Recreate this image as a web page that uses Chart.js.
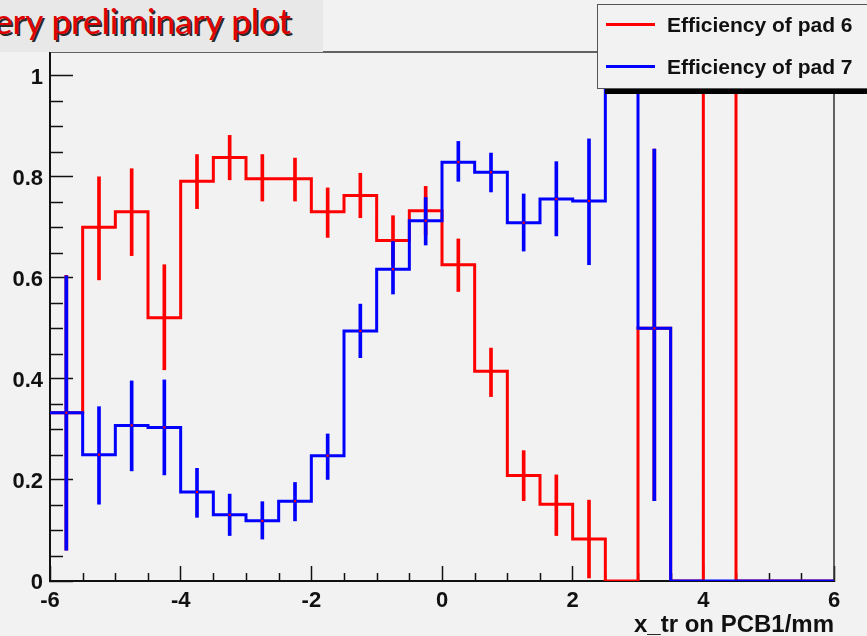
<!DOCTYPE html>
<html><head><meta charset="utf-8">
<script src="https://cdn.jsdelivr.net/npm/chart.js@4.4.1/dist/chart.umd.min.js"></script>
<style>
html,body{margin:0;padding:0;background:#f2f2f2;}
#wrap{position:relative;width:867px;height:636px;overflow:hidden;background:#f2f2f2;}
#c{position:absolute;left:0;top:0;}
#title{position:absolute;left:0;top:0;width:323px;height:52px;background:#e8e8e8;overflow:hidden;}
#title span{position:absolute;left:-27px;top:0px;font-family:Lato,"Open Sans",sans-serif;font-size:35px;line-height:40px;color:#e00000;text-shadow:2px 2px 0 #2a2a2a;white-space:nowrap;}
#legend{position:absolute;left:597px;top:4px;width:290px;height:83px;background:#f2f2f2;border:1px solid #555;box-shadow:8px 5px 0 #000;}
#legend .ln{position:absolute;left:8px;width:49px;height:3px;}
#legend .tx{position:absolute;left:69px;font-family:"Liberation Sans",Arial,sans-serif;font-weight:bold;font-size:21px;line-height:24px;color:#111;white-space:nowrap;}
</style></head>
<body>
<div id="wrap">
<canvas id="c" width="867" height="636"></canvas>
<div id="title"><span>Very preliminary plot</span></div>
<div id="legend">
  <div class="ln" style="top:18px;background:#ff0000"></div><div class="tx" style="top:8px">Efficiency of pad 6</div>
  <div class="ln" style="top:60px;background:#0000ff"></div><div class="tx" style="top:50px">Efficiency of pad 7</div>
</div>
</div>
<script>
// ---- data ----
const binEdges = [-6,-5.5,-5,-4.5,-4,-3.5,-3,-2.5,-2,-1.5,-1,-0.5,0,0.5,1,1.5,2,2.5,3,3.5,4,4.5,5,5.5,6];
const binCenters = [-5.75,-5.25,-4.75,-4.25,-3.75,-3.25,-2.75,-2.25,-1.75,-1.25,-0.75,-0.25,0.25,0.75,1.25,1.75,2.25,2.75,3.25,3.75,4.25,4.75,5.25,5.75];

const pad6Eff     = [0.333,0.700,0.731,0.521,0.791,0.838,0.796,0.796,0.731,0.763,0.674,0.733,0.626,0.415,0.209,0.152,0.083,0,0.5,0,1.0,0,0,0];
const pad6ErrLow  = [0.061,0.596,0.644,0.418,0.737,0.794,0.752,0.752,0.680,0.719,0.625,0.685,0.573,0.365,0.159,0.090,0.006,null,0.159,null,null,null,null,null];
const pad6ErrHigh = [0.605,0.800,0.816,0.626,0.844,0.882,0.844,0.837,0.778,0.807,0.723,0.781,0.677,0.461,0.258,0.210,0.160,null,0.855,null,null,null,null,null];

const pad7Eff     = [0.333,0.250,0.308,0.304,0.176,0.131,0.119,0.158,0.248,0.495,0.617,0.713,0.829,0.809,0.709,0.756,0.752,1.0,0.5,0,0,0,0,0];
const pad7ErrLow  = [0.061,0.152,0.218,0.210,0.126,0.090,0.083,0.119,0.201,0.442,0.568,0.665,0.791,0.770,0.653,0.683,0.626,null,0.159,null,null,null,null,null];
const pad7ErrHigh = [0.604,0.345,0.396,0.398,0.223,0.172,0.157,0.195,0.291,0.548,0.672,0.759,0.870,0.847,0.766,0.830,0.875,null,0.855,null,null,null,null,null];

const xTickValues = [-6,-4,-2,0,2,4,6];
const yTickValues = [0,0.2,0.4,0.6,0.8,1];
const yMinorTicks = [0.05,0.1,0.15,0.25,0.3,0.35,0.45,0.5,0.55,0.65,0.7,0.75,0.85,0.9,0.95];
const xMinorTicks = [-5.5,-5,-4.5,-3.5,-3,-2.5,-1.5,-1,-0.5,0.5,1,1.5,2.5,3,3.5,4.5,5,5.5];
const xTitle = 'x_tr on PCB1/mm';

const RED = '#ff0000', BLUE = '#0000ff';

function stepData(vals){
  return binEdges.map((e,i)=>({x:e, y: vals[Math.min(i, vals.length-1)]}));
}
function errData(lo, hi){
  return binCenters.map((c,i)=>({x:c, y: (lo[i]===null ? null : [lo[i], hi[i]])}));
}

const minorTicksPlugin = {
  id: 'minorTicks',
  beforeDatasetsDraw(chart){
    const {ctx, chartArea:a, scales:{x, y}} = chart;
    ctx.save();
    ctx.strokeStyle = '#111';
    ctx.lineWidth = 1.5;
    ctx.beginPath();
    yMinorTicks.forEach(v=>{ const py = Math.round(y.getPixelForValue(v))+0.5; ctx.moveTo(a.left, py); ctx.lineTo(a.left+13, py); });
    xMinorTicks.forEach(v=>{ const px = Math.round(x.getPixelForValue(v))+0.5; ctx.moveTo(px, a.bottom); ctx.lineTo(px, a.bottom-8); });
    ctx.stroke();
    // frame top/right
    ctx.strokeStyle = '#333';
    ctx.lineWidth = 1.5;
    ctx.beginPath();
    ctx.moveTo(a.left, a.top); ctx.lineTo(a.right, a.top); ctx.lineTo(a.right, a.bottom);
    ctx.stroke();
    ctx.restore();
  }
};

Chart.defaults.font.family = "'Liberation Sans', Arial, sans-serif";
Chart.defaults.color = '#111';

new Chart(document.getElementById('c'), {
  data: {
    datasets: [
      {type:'scatter', label:'marker', data: binCenters.map((c,i)=>({x:c, y: pad7Eff[i] > 0 ? pad7Eff[i] : null})),
        pointRadius:1.5, pointStyle:'rect', backgroundColor:RED, borderWidth:0, order:0},
      {type:'line', label:'Efficiency of pad 7', data: stepData(pad7Eff), stepped:true, borderColor:BLUE, borderWidth:3, pointRadius:0, fill:false, order:1},
      {type:'bar', label:'pad7 err', data: errData(pad7ErrLow, pad7ErrHigh), backgroundColor:BLUE, barThickness:3, grouped:false, order:2},
      {type:'line', label:'Efficiency of pad 6', data: stepData(pad6Eff), stepped:true, borderColor:RED, borderWidth:3, pointRadius:0, fill:false, order:3},
      {type:'bar', label:'pad6 err', data: errData(pad6ErrLow, pad6ErrHigh), backgroundColor:RED, barThickness:3, grouped:false, order:4}
    ]
  },
  options: {
    responsive:false, animation:false,
    layout:{padding:{top:52, right:33, left:0, bottom:0}},
    plugins:{legend:{display:false}, tooltip:{enabled:false}},
    scales:{
      x:{type:'linear', min:-6, max:6, offset:false,
        afterBuildTicks: s => { s.ticks = xTickValues.map(v=>({value:v})); },
        afterFit: s => { s.height = 55; },
        grid:{drawOnChartArea:false, drawTicks:true, tickLength:-15, tickColor:'#111', tickWidth:1.5, offset:false},
        border:{display:true, color:'#111', width:2},
        ticks:{padding:22, font:{size:22, weight:'bold'}, color:'#111', maxRotation:0, callback: v => String(v)},
        title:{display:true, text:xTitle, align:'end', font:{size:24, weight:'bold'}, color:'#111', padding:{top:0,bottom:-4}}
      },
      y:{type:'linear', min:0, max:1.047,
        afterBuildTicks: s => { s.ticks = yTickValues.map(v=>({value:v})); },
        afterFit: s => { s.width = 50; },
        grid:{drawOnChartArea:false, drawTicks:true, tickLength:-23, tickColor:'#111', tickWidth:1.5},
        border:{display:true, color:'#111', width:2},
        ticks:{padding:30, labelOffset:2, font:{size:22, weight:'bold'}, color:'#111', callback: v => String(+v.toFixed(1))}
      }
    }
  },
  plugins:[minorTicksPlugin]
});
</script>
</body></html>
